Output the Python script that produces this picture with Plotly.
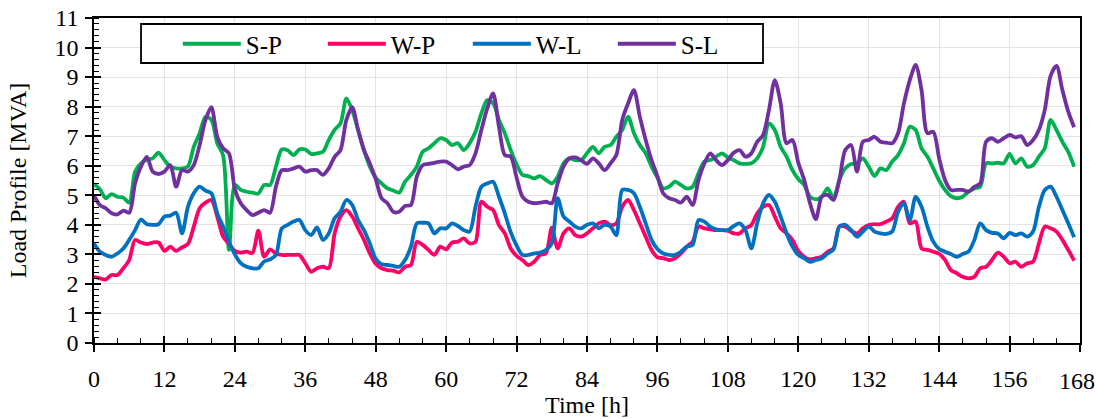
import plotly.graph_objects as go

hours = list(range(0, 168))

s_p = [5.38, 5.2, 4.9, 5.04, 4.95, 4.92, 4.75, 5.8, 6.08, 6.2, 6.25, 6.44, 6.19, 5.97, 5.91, 5.91, 5.97, 6.64, 7.1, 7.66,
       7.55, 6.76, 6.35, 3.15, 5.35, 5.18, 5.12, 5.09, 5.06, 5.35, 5.35, 5.97, 6.55, 6.52, 6.36, 6.55, 6.55, 6.4, 6.42, 6.47,
       6.87, 7.21, 7.43, 8.28, 7.88, 7.21, 6.53, 5.97, 5.6, 5.4, 5.23, 5.16, 5.09, 5.46, 5.69, 5.97, 6.47, 6.59, 6.76, 6.93,
       6.87, 6.7, 6.76, 6.53, 6.76, 7.15, 7.77, 8.22, 8.11, 7.55, 7.1, 6.53, 6.05, 5.69, 5.65, 5.57, 5.65, 5.52, 5.4, 5.63,
       6.08, 6.25, 6.19, 6.19, 6.42, 6.64, 6.42, 6.64, 6.7, 6.98, 7.21, 7.66, 7.1, 6.7, 6.42, 5.97, 5.6, 5.23, 5.29, 5.46,
       5.35, 5.23, 5.29, 5.74, 6.14, 6.19, 6.31, 6.42, 6.28, 6.19, 6.08, 6.06, 6.08, 6.25, 6.64, 7.43, 7.21, 6.64, 6.31, 5.85,
       5.55, 5.35, 4.95, 4.86, 4.95, 5.23, 4.9, 5.52, 5.91, 6.06, 6.08, 6.25, 5.97, 5.65, 5.91, 5.85, 6.14, 6.36, 6.76, 7.32,
       7.21, 6.59, 6.31, 5.91, 5.5, 5.18, 4.97, 4.9, 4.95, 5.12, 5.23, 5.29, 6.08, 6.08, 6.1, 6.08, 6.4, 6.08, 6.25, 5.97,
       6.02, 6.31, 6.59, 7.55, 7.21, 6.81, 6.47, 5.97]

w_p = [2.24, 2.19, 2.15, 2.3, 2.3, 2.53, 2.81, 3.49, 3.4, 3.35, 3.4, 3.4, 3.12, 3.26, 3.12, 3.24, 3.35, 3.94, 4.56, 4.75,
       4.84, 4.28, 3.6, 3.35, 3.12, 3.06, 3.09, 3.05, 3.8, 2.92, 3.17, 3.03, 2.98, 2.98, 2.98, 2.98, 2.7, 2.41, 2.53, 2.58,
       2.53, 3.71, 4.28, 4.5, 4.28, 3.88, 3.49, 3.03, 2.68, 2.53, 2.47, 2.45, 2.39, 2.58, 2.64, 3.43, 3.32, 3.15, 2.98, 3.26,
       3.17, 3.4, 3.43, 3.54, 3.37, 3.43, 4.78, 4.61, 4.5, 3.99, 3.71, 3.2, 2.95, 2.81, 2.64, 2.75, 2.98, 3.03, 3.9, 3.2,
       3.71, 3.88, 3.65, 3.6, 3.71, 3.88, 4.05, 4.11, 3.99, 4.05, 4.61, 4.84, 4.5, 4.05, 3.6, 3.15, 2.9, 2.87, 2.81, 2.87,
       3.03, 3.26, 3.43, 3.94, 3.88, 3.85, 3.82, 3.82, 3.8, 3.71, 3.71, 3.88, 3.99, 4.39, 4.61, 4.67, 4.28, 3.88, 3.71, 3.49,
       3.12, 2.92, 2.83, 2.87, 2.92, 3.09, 3.2, 3.94, 3.94, 3.8, 3.71, 3.88, 3.99, 4.02, 4.02, 4.11, 4.22, 4.61, 4.78, 4.05,
       4.11, 3.2, 3.15, 3.09, 3.02, 2.81, 2.47, 2.36, 2.24, 2.19, 2.24, 2.53, 2.58, 2.81, 3.06, 2.92, 2.7, 2.75, 2.58, 2.7,
       2.75, 3.37, 3.94, 3.88, 3.77, 3.49, 3.15, 2.79]

w_l = [3.37, 3.09, 2.98, 2.92, 3.03, 3.2, 3.49, 3.82, 4.18, 4.02, 4.0, 4.02, 4.28, 4.31, 4.41, 3.71, 4.61, 5.07, 5.29, 5.16,
       5.07, 4.39, 3.94, 3.43, 3.0, 2.7, 2.58, 2.53, 2.53, 2.76, 2.83, 2.98, 3.88, 4.0, 4.11, 4.16, 3.82, 3.65, 3.91, 3.49,
       3.71, 4.22, 4.44, 4.84, 4.67, 4.16, 3.82, 3.37, 2.85, 2.67, 2.64, 2.61, 2.58, 2.81, 3.26, 4.05, 4.07, 4.05, 3.71, 3.88,
       3.88, 4.05, 3.96, 3.82, 3.77, 4.61, 5.29, 5.4, 5.46, 4.95, 4.39, 3.75, 3.3, 2.98, 2.98, 3.03, 3.06, 3.15, 3.37, 4.9,
       4.28, 4.11, 3.94, 3.88, 4.0, 4.05, 3.88, 4.0, 3.94, 3.65, 5.18, 5.18, 5.07, 4.61, 4.05, 3.49, 3.18, 3.03, 2.98, 2.98,
       3.09, 3.26, 3.32, 4.16, 4.11, 3.94, 3.85, 3.82, 3.82, 3.96, 4.05, 3.82, 3.2, 4.05, 4.73, 5.01, 4.78, 4.28, 3.71, 3.26,
       2.98, 2.87, 2.75, 2.81, 2.87, 3.03, 3.17, 3.94, 4.0, 3.82, 3.6, 3.77, 3.94, 3.77, 3.71, 3.69, 3.77, 4.44, 4.73, 4.16,
       4.95, 4.61, 3.94, 3.43, 3.18, 3.09, 3.01, 2.92, 3.01, 3.09, 3.49, 4.05, 3.82, 3.73, 3.71, 3.54, 3.73, 3.65, 3.71, 3.6,
       3.77, 4.61, 5.18, 5.29, 4.95, 4.5, 4.05, 3.58]

s_l = [5.0, 4.67, 4.56, 4.39, 4.35, 4.48, 4.41, 5.4, 5.97, 6.3, 5.8, 5.72, 5.8, 6.02, 5.29, 5.85, 5.8, 6.02, 6.7, 7.55,
       7.98, 6.98, 6.59, 6.42, 5.2, 4.73, 4.5, 4.33, 4.41, 4.5, 4.41, 5.29, 5.85, 5.85, 5.91, 5.97, 5.8, 5.85, 5.85, 5.69,
       5.91, 6.3, 6.53, 7.55, 7.98, 7.21, 6.53, 6.08, 5.55, 4.9, 4.73, 4.44, 4.44, 4.64, 4.67, 5.63, 6.02, 6.06, 6.1, 6.14,
       6.14, 6.02, 5.88, 5.97, 6.02, 6.42, 7.21, 7.94, 8.45, 7.32, 6.36, 6.31, 5.6, 4.95, 4.78, 4.73, 4.75, 4.78, 4.73, 5.4,
       5.97, 6.25, 6.28, 6.19, 6.06, 6.25, 6.08, 5.85, 6.08, 6.36, 7.55, 8.11, 8.56, 7.66, 6.87, 6.19, 5.65, 5.06, 4.9, 4.84,
       4.75, 4.95, 4.67, 5.52, 6.08, 6.42, 6.19, 6.02, 6.19, 6.44, 6.53, 6.31, 6.42, 6.81, 7.04, 7.88, 8.9, 8.11, 6.76, 6.87,
       6.1, 5.52, 4.73, 4.19, 4.95, 5.01, 4.84, 5.52, 6.53, 6.7, 5.8, 6.81, 6.87, 6.98, 6.81, 6.78, 6.76, 7.1, 8.11, 8.9,
       9.41, 8.56, 7.1, 7.15, 6.25, 5.52, 5.18, 5.18, 5.18, 5.12, 5.29, 5.4, 6.81, 6.93, 6.81, 6.93, 7.04, 6.96, 7.0, 6.7,
       6.87, 7.21, 7.89, 9.05, 9.38, 8.56, 7.83, 7.3]

series = [("S-P", s_p, "#00B050"), ("W-P", w_p, "#FF0066"), ("W-L", w_l, "#0070C0"), ("S-L", s_l, "#7030A0")]

x_ticks = list(range(0, 169, 12))
y_ticks = list(range(0, 12))

FONT = "Liberation Serif, Times New Roman, serif"
FS = 24

fig = go.Figure()
for name, vals, col in series:
    fig.add_trace(go.Scatter(x=hours, y=vals, name=name, mode="lines",
                             line=dict(color=col, width=3.8, shape="spline", smoothing=0.8)))

# invisible trace for overlay axes (inner half of crossing major ticks)
fig.add_trace(go.Scatter(x=[0], y=[0], xaxis="x2", yaxis="y2", mode="lines",
                         line=dict(width=0), showlegend=False, hoverinfo="skip"))

# legend frame
fig.add_shape(type="rect", xref="paper", yref="paper", x0=0.0477, x1=0.6785, y0=0.8615, y1=0.9815,
              line=dict(color="black", width=1.8), fillcolor="white", layer="above")

# last tick label at the right page edge (plotly drops it when it overflows)
fig.add_annotation(x=x_ticks[-1], xref="x", y=0, yref="paper", yanchor="top", xanchor="center",
                   text=str(x_ticks[-1]), showarrow=False, yshift=-23, xshift=-3,
                   font=dict(family=FONT, size=FS, color="black"))

fig.update_layout(
    width=1096, height=419,
    margin=dict(l=94, r=16, t=18, b=76),
    paper_bgcolor="white", plot_bgcolor="white",
    font=dict(family=FONT, size=FS, color="black"),
    showlegend=True,
    legend=dict(orientation="h", x=0.085, y=0.92, xanchor="left", yanchor="middle",
                borderwidth=0, bgcolor="rgba(0,0,0,0)",
                font=dict(family=FONT, size=25, color="black"),
                entrywidth=72, entrywidthmode="pixels", itemwidth=58),
    xaxis=dict(range=[0, 168], tickmode="array", tickvals=x_ticks, ticktext=[str(v) for v in x_ticks],
               automargin=False,
               showline=True, linecolor="black", linewidth=1.5, mirror=True,
               ticks="outside", ticklen=7, tickwidth=1.5, tickcolor="black",
               minor=dict(dtick=4, tick0=0, ticks="inside", ticklen=5, tickwidth=1.2, tickcolor="black", showgrid=False),
               showgrid=True, gridcolor="#E3E3E3", gridwidth=1, zeroline=False,
               tickfont=dict(family=FONT, size=FS, color="black"), ticklabelstandoff=6,
               title=dict(text="Time [h]", font=dict(family=FONT, size=FS, color="black"), standoff=0)),
    yaxis=dict(range=[0, 11], tickmode="array", tickvals=y_ticks, ticktext=[str(v) for v in y_ticks],
               automargin=False,
               showline=True, linecolor="black", linewidth=1.5, mirror=True,
               ticks="outside", ticklen=7, tickwidth=1.5, tickcolor="black",
               minor=dict(dtick=0.2, tick0=0, ticks="inside", ticklen=5, tickwidth=1.2, tickcolor="black", showgrid=False),
               showgrid=True, gridcolor="#E3E3E3", gridwidth=1, zeroline=False,
               tickfont=dict(family=FONT, size=FS, color="black"), ticklabelstandoff=2,
               title=dict(text="Load Profile [MVA]", font=dict(family=FONT, size=FS, color="black"), standoff=21)),
    xaxis2=dict(overlaying="x", range=[0, 168], tickmode="array", tickvals=x_ticks, showticklabels=False,
                automargin=False,
                ticks="inside", ticklen=7, tickwidth=1.5, tickcolor="black", showgrid=False, zeroline=False,
                showline=False, side="bottom"),
    yaxis2=dict(overlaying="y", range=[0, 11], tickmode="array", tickvals=y_ticks, showticklabels=False,
                automargin=False,
                ticks="inside", ticklen=7, tickwidth=1.5, tickcolor="black", showgrid=False, zeroline=False,
                showline=False, side="left"),
)

fig.write_html("out.html")
